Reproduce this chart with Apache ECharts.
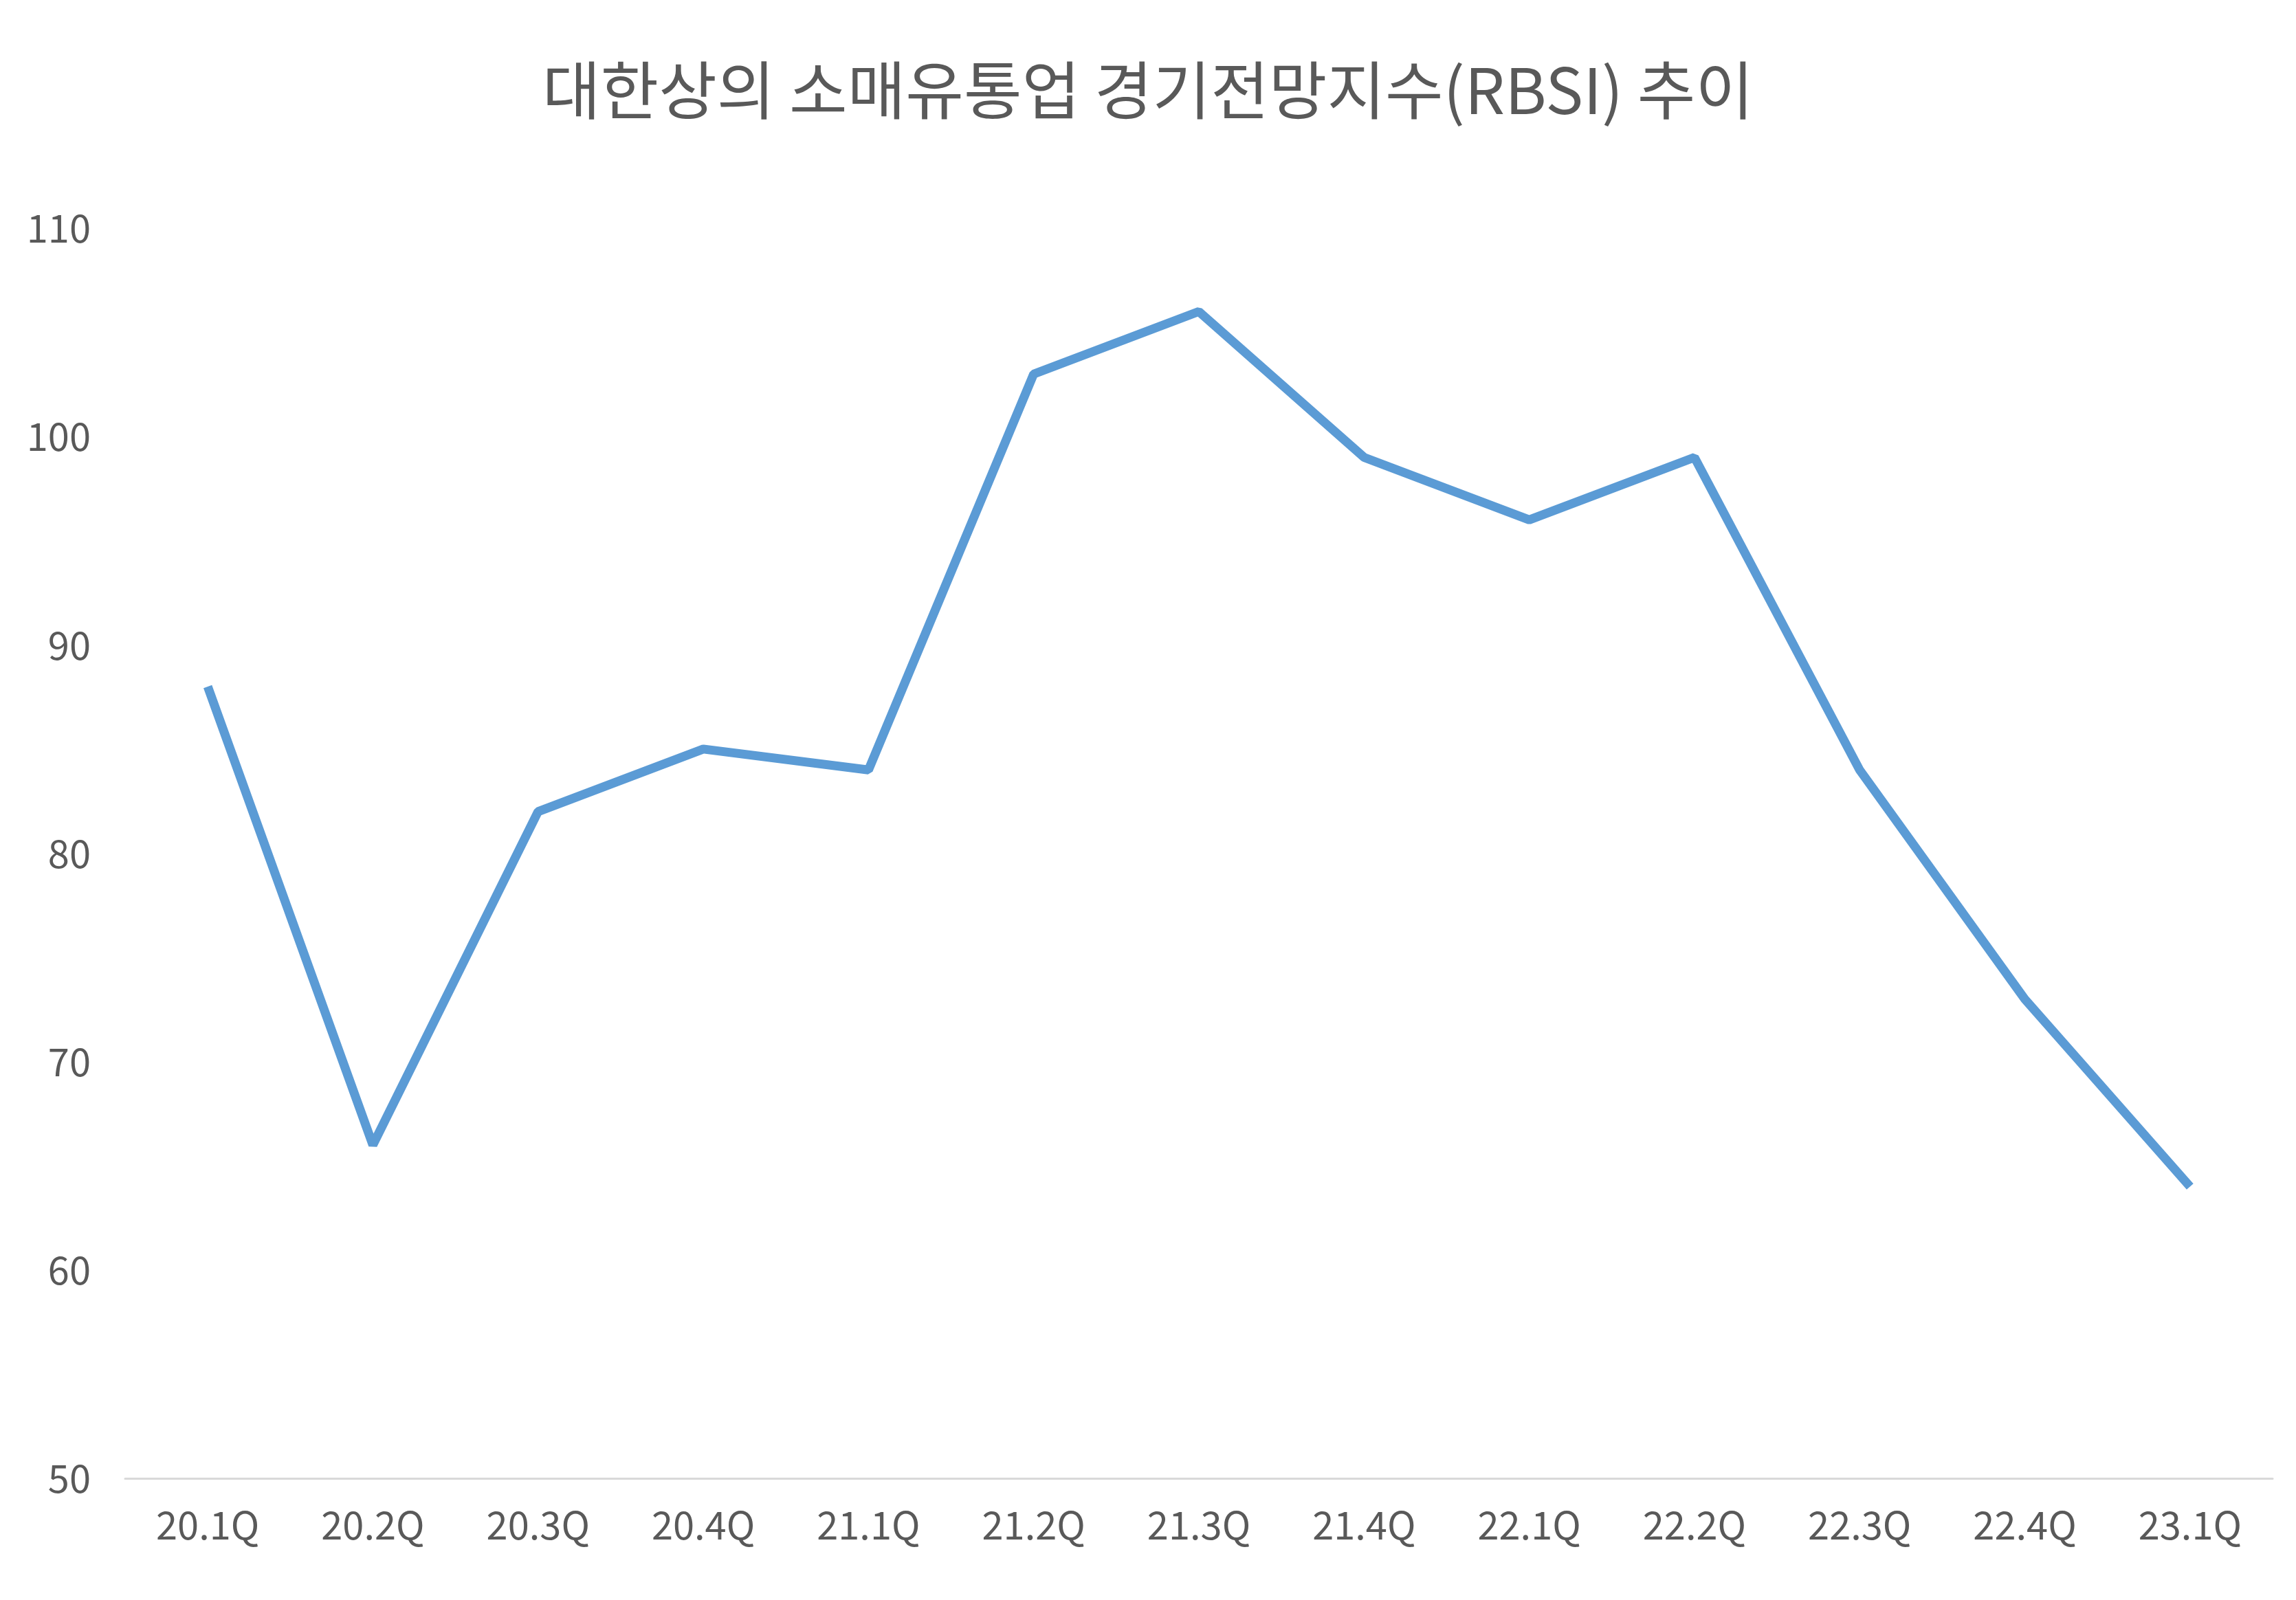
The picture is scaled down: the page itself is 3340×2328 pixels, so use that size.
<!DOCTYPE html>
<html>
<head>
<meta charset="utf-8">
<script src="https://cdn.jsdelivr.net/npm/echarts@6/dist/echarts.min.js"></script>
<style>html,body{margin:0;padding:0;background:#fff}#chart{width:3340px;height:2328px}</style>
</head>
<body>
<div id="chart"></div>
<script>
// 분기
var quarters = ['20.1Q','20.2Q','20.3Q','20.4Q','21.1Q','21.2Q','21.3Q','21.4Q','22.1Q','22.2Q','22.3Q','22.4Q','23.1Q'];
// RBSI 값
var rbsi = [88, 66, 82, 85, 84, 103, 106, 99, 96, 99, 84, 73, 64];

var chart = echarts.init(document.getElementById('chart'));
var font = '"Noto Sans CJK KR", "Noto Sans", sans-serif';

var points = [];
for (var i = 0; i < rbsi.length; i++) {
	var p = { value: rbsi[i] };
	if (i == rbsi.length - 1) {
		p.label = { color: '#ff0000' }; // 마지막 값 강조
	}
	points.push(p);
}

chart.setOption({
	animation: false,
	title: {
		text: '대한상의 소매유통업 경기전망지수(RBSI) 추이',
		left: 'center',
		top: 80,
		textStyle: { fontFamily: font, fontSize: 92, fontWeight: 'normal', color: '#595959' }
	},
	grid: { left: 182, right: 34, top: 332, bottom: 177 },
	xAxis: {
		type: 'category',
		data: quarters,
		axisLine: { lineStyle: { color: '#d9d9d9', width: 3 } },
		axisTick: { show: false },
		axisLabel: { fontFamily: font, fontSize: 56, color: '#595959', margin: 40 }
	},
	yAxis: {
		type: 'value',
		min: 50,
		max: 110,
		interval: 10,
		splitLine: { show: false },
		axisLabel: { fontFamily: font, fontSize: 56, color: '#595959', margin: 50 }
	},
	series: [{
		type: 'line',
		data: points,
		symbol: 'none',
		lineStyle: { color: '#5b9bd5', width: 13 },
		label: {
			show: true,
			position: 'right',
			offset: [20, 10],
			fontFamily: font,
			fontSize: 62,
			fontWeight: 'bold',
			color: '#404040'
		}
	}]
});
</script>
</body>
</html>
